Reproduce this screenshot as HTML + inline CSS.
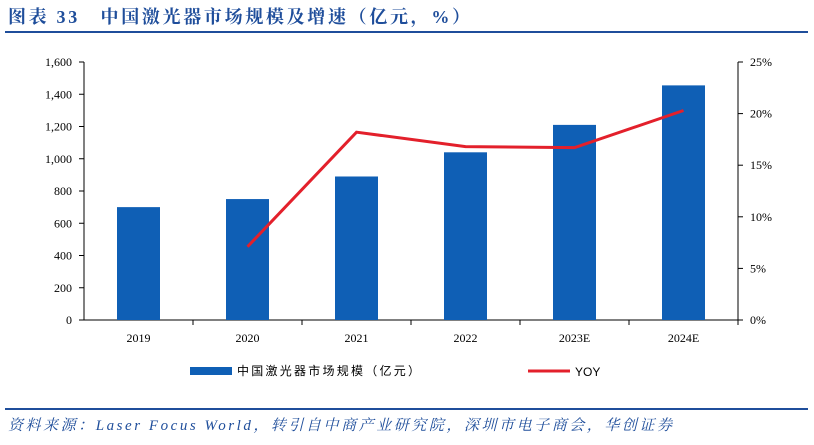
<!DOCTYPE html>
<html><head><meta charset="utf-8"><style>
body{margin:0;width:814px;height:440px;background:#fff;overflow:hidden;font-family:"Liberation Serif","Noto Serif CJK SC",serif;}
</style></head><body>
<svg width="814" height="440" font-family="Liberation Serif, Noto Serif CJK SC, serif">
<text x="8" y="23" font-size="18" font-weight="bold" fill="#1f4e9b" textLength="462" lengthAdjust="spacing">图表 33　中国激光器市场规模及增速（亿元，%）</text>
<line x1="5" y1="32" x2="808" y2="32" stroke="#1f4e9b" stroke-width="2"/>
<g id="plot"></g>
<g>
<rect x="190" y="367" width="42" height="8" fill="#0f5fb5"/>
<text x="237" y="375" font-size="12" textLength="183" lengthAdjust="spacing" font-family="Liberation Sans, Noto Sans CJK SC, sans-serif">中国激光器市场规模（亿元）</text>
<line x1="528" y1="371" x2="570" y2="371" stroke="#e3202b" stroke-width="3"/>
<text x="575" y="376" font-size="12" font-family="Liberation Sans, sans-serif">YOY</text>
</g>
<line x1="5" y1="409" x2="808" y2="409" stroke="#1f4e9b" stroke-width="2"/>
<text x="8" y="430" font-size="15" font-style="italic" fill="#1f4e9b" textLength="664" lengthAdjust="spacing">资料来源：Laser Focus World，转引自中商产业研究院，深圳市电子商会，华创证券</text>
</svg>
<script>
const categories=["2019","2020","2021","2022","2023E","2024E"];
const sizes=[700,750,890,1040,1210,1455];
const yoy=[null,7.1,18.2,16.8,16.7,20.3];
const leftTicks=[0,200,400,600,800,1000,1200,1400,1600];
const rightTicks=[0,5,10,15,20,25];
const NS="http://www.w3.org/2000/svg";
const g=document.getElementById("plot");
const x0=84,x1=738,yB=320,yT=62;
const bw=(x1-x0)/categories.length;
const xc=i=>x0+bw*(i+0.5);
const yl=v=>yB-(v/1600)*(yB-yT);
const yr=v=>yB-(v/25)*(yB-yT);
function mk(t,a){const e=document.createElementNS(NS,t);for(const k in a)e.setAttribute(k,a[k]);g.appendChild(e);return e;}
let e;
e=mk("line",{x1:x0,y1:yT,x2:x0,y2:yB,stroke:"#000"});


e=mk("line",{x1:x1,y1:yT,x2:x1,y2:yB,stroke:"#000"});


e=mk("line",{x1:x0,y1:yB,x2:x1,y2:yB,stroke:"#000"});


leftTicks.forEach(v=>{
 e=mk("line",{x1:x0-5,y1:yl(v),x2:x0,y2:yl(v),stroke:"#000"});
 
 
 e=mk("text",{x:x0-12,y:yl(v)+4,"font-size":12,"text-anchor":"end"});
 e.textContent=v.toLocaleString("en-US");
 
 
});
rightTicks.forEach(v=>{
 e=mk("line",{x1:x1,y1:yr(v),x2:x1+5,y2:yr(v),stroke:"#000"});
 
 
 e=mk("text",{x:x1+12,y:yr(v)+4,"font-size":12});
 e.textContent=v+"%";
 
 
});
categories.forEach((c,i)=>{
 e=mk("line",{x1:x0+bw*(i+1),y1:yB,x2:x0+bw*(i+1),y2:yB+5,stroke:"#000"});
 
 
 e=mk("rect",{x:xc(i)-21.5,y:yl(sizes[i]),width:43,height:yB-yl(sizes[i]),fill:"#0f5fb5"});
 
 
 e=mk("text",{x:xc(i),y:yB+22,"font-size":12,"text-anchor":"middle"});
 e.textContent=c;
 
 
});
const pts=yoy.map((v,i)=>v==null?null:xc(i)+","+yr(v)).filter(p=>p);
e=mk("polyline",{points:pts.join(" "),fill:"none",stroke:"#e3202b","stroke-width":3});


</script>
</body></html>
